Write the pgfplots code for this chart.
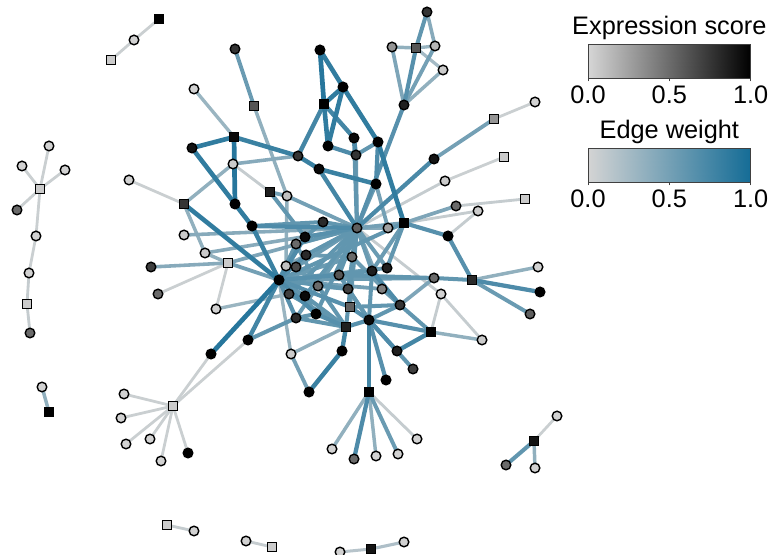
\documentclass[border=0pt]{standalone}
\usepackage{fontspec}
\setmainfont{Liberation Sans}
\usepackage{pgfplots}
\pgfplotsset{compat=1.18}
\definecolor{ecol}{RGB}{20,108,150}
\definecolor{egray}{RGB}{212,212,212}
\pgfplotsset{
  e/.style={draw=ecol!#1!egray, line width={2.0pt+0.017pt*#1}},
  colormap={expr}{rgb255=(214,214,214) rgb255=(0,0,0)},
  colormap={ew}{rgb255=(212,212,212) rgb255=(20,108,150)},
  cbar/.style={anchor=south west, width=122pt, height=25.5pt, scale only axis,
    xmin=0, xmax=1, ymin=0, ymax=1, enlargelimits=false, axis on top,
    axis line style={draw=black!75, line width=0.6pt},
    ytick=\empty, xtick={0,0.5,1}, xticklabels={0.0,0.5,1.0},
    xtick pos=bottom, tick align=outside, major tick length=2.5pt,
    tick style={draw=black!75, line width=0.6pt},
    xticklabel style={font=\fontsize{19}{22}\selectfont, inner sep=0pt, yshift=-3pt},
    title style={font=\fontsize{19}{22}\selectfont, anchor=base, at={(0.5,1)}, yshift=1.2pt, inner sep=0pt}},
}
\begin{document}
\begin{tikzpicture}
\useasboundingbox (0,0) rectangle (578.25pt,416.25pt);
\begin{axis}[at={(0,0)}, anchor=south west, width=578.25pt, height=416.25pt, scale only axis,
  xmin=0, xmax=771, ymin=0, ymax=555, y dir=reverse, hide axis, clip=true, clip marker paths=true]
% weight 5
\addplot[e=5] coordinates {(159,19)(134,40)};
\addplot[e=5] coordinates {(134,40)(111,60)};
\addplot[e=5] coordinates {(40,189)(49,146)};
\addplot[e=5] coordinates {(40,189)(22,166)};
\addplot[e=5] coordinates {(40,189)(65,170)};
\addplot[e=5] coordinates {(40,189)(17,210)};
\addplot[e=5] coordinates {(40,189)(36,236)};
\addplot[e=5] coordinates {(36,236)(29,273)};
\addplot[e=5] coordinates {(173,406)(124,394)};
\addplot[e=5] coordinates {(173,406)(121,418)};
\addplot[e=5] coordinates {(173,406)(126,444)};
\addplot[e=5] coordinates {(173,406)(150,439)};
\addplot[e=5] coordinates {(173,406)(161,461)};
\addplot[e=5] coordinates {(173,406)(188,453)};
\addplot[e=5] coordinates {(173,406)(211,354)};
\addplot[e=5] coordinates {(173,406)(248,340)};
\addplot[e=5] coordinates {(534,441)(557,416)};
\addplot[e=5] coordinates {(494,119)(535,102)};
\addplot[e=5] coordinates {(504,157)(445,181)};
\addplot[e=5] coordinates {(129,180)(184,204)};
\addplot[e=5] coordinates {(228,263)(158,294)};
\addplot[e=5] coordinates {(228,263)(216,309)};
% weight 8
\addplot[e=8] coordinates {(29,273)(27,304)};
\addplot[e=8] coordinates {(27,304)(30,333)};
\addplot[e=8] coordinates {(167,525)(194,531)};
\addplot[e=8] coordinates {(246,541)(272,547)};
\addplot[e=8] coordinates {(369,392)(417,439)};
\addplot[e=8] coordinates {(445,181)(357,228)};
\addplot[e=8] coordinates {(525,199)(456,206)};
\addplot[e=8] coordinates {(478,211)(404,223)};
\addplot[e=8] coordinates {(448,236)(478,211)};
\addplot[e=8] coordinates {(441,294)(357,228)};
\addplot[e=8] coordinates {(441,294)(431,332)};
\addplot[e=8] coordinates {(441,294)(482,340)};
\addplot[e=8] coordinates {(233,164)(270,192)};
% weight 15-25
\addplot[e=15] coordinates {(340,552)(371,549)};
\addplot[e=20] coordinates {(371,549)(404,542)};
\addplot[e=25] coordinates {(416,48)(443,70)};
% weight 30-35
\addplot[e=30] coordinates {(194,89)(234,137)};
\addplot[e=30] coordinates {(416,48)(435,46)};
\addplot[e=30] coordinates {(216,309)(289,294)};
\addplot[e=30] coordinates {(291,354)(279,280)};
\addplot[e=35] coordinates {(42,387)(49,412)};
\addplot[e=35] coordinates {(534,441)(535,468)};
\addplot[e=35] coordinates {(369,392)(332,449)};
\addplot[e=35] coordinates {(369,392)(376,456)};
\addplot[e=35] coordinates {(392,47)(416,48)};
\addplot[e=35] coordinates {(443,70)(404,105)};
\addplot[e=35] coordinates {(254,106)(287,196)};
\addplot[e=35] coordinates {(233,164)(184,204)};
\addplot[e=35] coordinates {(184,204)(205,253)};
\addplot[e=35] coordinates {(205,253)(228,263)};
\addplot[e=35] coordinates {(287,196)(286,266)};
\addplot[e=35] coordinates {(431,332)(482,340)};
\addplot[e=35] coordinates {(472,280)(538,267)};
\addplot[e=35] coordinates {(291,354)(346,327)};
% weight 40-45
\addplot[e=40] coordinates {(427,12)(435,46)};
\addplot[e=40] coordinates {(233,164)(298,156)};
\addplot[e=40] coordinates {(184,235)(357,228)};
\addplot[e=40] coordinates {(205,253)(357,228)};
\addplot[e=40] coordinates {(228,263)(151,267)};
\addplot[e=40] coordinates {(388,228)(357,228)};
\addplot[e=40] coordinates {(404,223)(388,228)};
\addplot[e=45] coordinates {(392,47)(404,105)};
\addplot[e=45] coordinates {(456,206)(404,223)};
\addplot[e=45] coordinates {(228,263)(357,228)};
\addplot[e=45] coordinates {(434,278)(400,305)};
\addplot[e=45] coordinates {(286,266)(357,228)};
\addplot[e=45] coordinates {(382,289)(357,228)};
% weight 50
\addplot[e=50] coordinates {(435,46)(404,105)};
\addplot[e=50] coordinates {(494,119)(434,159)};
\addplot[e=50] coordinates {(228,263)(279,280)};
\addplot[e=50] coordinates {(270,192)(287,196)};
\addplot[e=50] coordinates {(287,196)(357,228)};
\addplot[e=50] coordinates {(376,184)(388,228)};
\addplot[e=50] coordinates {(404,223)(357,228)};
\addplot[e=50] coordinates {(318,286)(357,228)};
\addplot[e=50] coordinates {(291,354)(309,392)};
\addplot[e=50] coordinates {(279,280)(382,289)};
% weight 55
\addplot[e=55] coordinates {(369,392)(398,454)};
\addplot[e=55] coordinates {(235,49)(254,106)};
\addplot[e=55] coordinates {(472,280)(530,314)};
\addplot[e=55] coordinates {(434,278)(279,280)};
\addplot[e=55] coordinates {(356,155)(357,228)};
\addplot[e=55] coordinates {(376,184)(357,228)};
\addplot[e=55] coordinates {(296,267)(357,228)};
\addplot[e=55] coordinates {(352,257)(357,228)};
\addplot[e=55] coordinates {(372,271)(357,228)};
\addplot[e=55] coordinates {(387,268)(357,228)};
\addplot[e=55] coordinates {(350,307)(357,228)};
\addplot[e=55] coordinates {(296,318)(357,228)};
\addplot[e=55] coordinates {(279,280)(387,268)};
\addplot[e=55] coordinates {(279,280)(352,257)};
\addplot[e=55] coordinates {(400,305)(382,289)};
\addplot[e=55] coordinates {(400,305)(352,257)};
\addplot[e=55] coordinates {(296,244)(318,286)};
\addplot[e=55] coordinates {(296,267)(318,286)};
\addplot[e=55] coordinates {(306,255)(352,257)};
\addplot[e=55] coordinates {(318,286)(348,289)};
\addplot[e=55] coordinates {(289,294)(305,296)};
\addplot[e=55] coordinates {(404,223)(372,271)};
% weight 60
\addplot[e=60] coordinates {(506,465)(534,441)};
\addplot[e=60] coordinates {(427,12)(416,48)};
\addplot[e=60] coordinates {(356,155)(378,142)};
\addplot[e=60] coordinates {(354,138)(357,228)};
\addplot[e=60] coordinates {(252,226)(323,222)};
\addplot[e=60] coordinates {(323,222)(357,228)};
\addplot[e=60] coordinates {(296,244)(357,228)};
\addplot[e=60] coordinates {(306,255)(357,228)};
\addplot[e=60] coordinates {(339,275)(357,228)};
\addplot[e=60] coordinates {(348,289)(357,228)};
\addplot[e=60] coordinates {(289,294)(357,228)};
\addplot[e=60] coordinates {(305,296)(357,228)};
\addplot[e=60] coordinates {(316,314)(357,228)};
\addplot[e=60] coordinates {(346,327)(357,228)};
\addplot[e=60] coordinates {(434,278)(339,275)};
\addplot[e=60] coordinates {(472,280)(434,278)};
\addplot[e=60] coordinates {(431,332)(400,305)};
\addplot[e=60] coordinates {(413,369)(369,320)};
\addplot[e=60] coordinates {(279,280)(296,244)};
\addplot[e=60] coordinates {(279,280)(372,271)};
\addplot[e=60] coordinates {(279,280)(348,289)};
\addplot[e=60] coordinates {(279,280)(305,296)};
\addplot[e=60] coordinates {(279,280)(404,223)};
\addplot[e=60] coordinates {(248,340)(296,318)};
\addplot[e=60] coordinates {(400,305)(350,307)};
\addplot[e=60] coordinates {(400,305)(369,320)};
\addplot[e=60] coordinates {(369,320)(348,289)};
\addplot[e=60] coordinates {(369,320)(372,271)};
\addplot[e=60] coordinates {(369,320)(339,275)};
\addplot[e=60] coordinates {(346,327)(318,286)};
\addplot[e=60] coordinates {(346,327)(305,296)};
\addplot[e=60] coordinates {(346,327)(296,318)};
\addplot[e=60] coordinates {(346,327)(289,294)};
\addplot[e=60] coordinates {(323,222)(305,237)};
\addplot[e=60] coordinates {(305,296)(316,314)};
\addplot[e=60] coordinates {(296,318)(316,314)};
\addplot[e=60] coordinates {(270,192)(305,237)};
\addplot[e=60] coordinates {(404,223)(387,268)};
% weight 65
\addplot[e=65] coordinates {(416,48)(404,105)};
\addplot[e=65] coordinates {(404,105)(357,228)};
\addplot[e=65] coordinates {(448,236)(404,223)};
\addplot[e=65] coordinates {(448,236)(472,280)};
\addplot[e=65] coordinates {(431,332)(369,320)};
\addplot[e=65] coordinates {(386,380)(369,320)};
\addplot[e=65] coordinates {(305,237)(357,228)};
\addplot[e=65] coordinates {(279,280)(306,255)};
\addplot[e=65] coordinates {(279,280)(339,275)};
\addplot[e=65] coordinates {(279,280)(350,307)};
\addplot[e=65] coordinates {(279,280)(296,318)};
\addplot[e=65] coordinates {(369,320)(350,307)};
\addplot[e=65] coordinates {(369,320)(346,327)};
\addplot[e=65] coordinates {(346,327)(316,314)};
% weight 70
\addplot[e=70] coordinates {(369,392)(354,459)};
\addplot[e=70] coordinates {(472,280)(540,292)};
\addplot[e=72] coordinates {(434,159)(357,228)};
\addplot[e=70] coordinates {(354,138)(356,155)};
\addplot[e=70] coordinates {(328,146)(356,155)};
\addplot[e=70] coordinates {(378,142)(376,184)};
\addplot[e=70] coordinates {(252,226)(357,228)};
\addplot[e=70] coordinates {(279,280)(305,237)};
\addplot[e=70] coordinates {(279,280)(316,314)};
\addplot[e=70] coordinates {(397,351)(369,320)};
\addplot[e=70] coordinates {(400,305)(372,271)};
% weight 75
\addplot[e=75] coordinates {(369,392)(369,320)};
\addplot[e=75] coordinates {(324,104)(354,138)};
\addplot[e=75] coordinates {(324,104)(298,156)};
\addplot[e=75] coordinates {(319,169)(357,228)};
\addplot[e=75] coordinates {(279,280)(248,340)};
\addplot[e=75] coordinates {(431,332)(397,351)};
\addplot[e=75] coordinates {(342,351)(346,327)};
% weight 80
\addplot[e=80] coordinates {(234,137)(298,156)};
\addplot[e=80] coordinates {(298,156)(319,169)};
\addplot[e=80] coordinates {(319,169)(376,184)};
\addplot[e=80] coordinates {(252,226)(279,280)};
\addplot[e=80] coordinates {(309,392)(342,351)};
% weight 85
\addplot[e=85] coordinates {(234,137)(192,148)};
\addplot[e=85] coordinates {(192,148)(235,204)};
\addplot[e=85] coordinates {(320,50)(343,87)};
\addplot[e=85] coordinates {(343,87)(324,104)};
\addplot[e=85] coordinates {(343,87)(328,146)};
\addplot[e=85] coordinates {(343,87)(378,142)};
\addplot[e=85] coordinates {(324,104)(328,146)};
\addplot[e=85] coordinates {(378,142)(404,223)};
\addplot[e=85] coordinates {(235,204)(252,226)};
\addplot[e=85] coordinates {(184,204)(279,280)};
% weight 90
\addplot[e=90] coordinates {(234,137)(235,204)};
\addplot[e=90] coordinates {(320,50)(324,104)};
\addplot[e=90] coordinates {(279,280)(211,354)};
% nodes: circles
\addplot[scatter, only marks, mark=*, mark size=3.6pt, scatter src=explicit, colormap name=expr,
  point meta min=0, point meta max=1, scatter/use mapped color={draw=black, fill=mapped color},
  mark options={line width=1.05pt}] table[meta=s] {
x y s
134 40 0.02
49 146 0.02
22 166 0.02
65 170 0.02
17 210 0.5
36 236 0.02
29 273 0.02
30 333 0.5
42 387 0.02
124 394 0.02
121 418 0.02
126 444 0.02
150 439 0.02
161 461 0.02
188 453 1.0
194 531 0.02
246 541 0.02
340 552 0.02
404 542 0.02
506 465 0.5
557 416 0.02
535 468 0.02
332 449 0.02
354 459 0.5
376 456 0.02
398 454 0.02
417 439 0.02
427 12 0.75
392 47 0.3
435 46 0.15
443 70 0.05
404 105 0.85
535 102 0.02
434 159 0.9
445 181 0.05
456 206 0.5
235 49 0.75
194 89 0.02
192 148 0.9
320 50 1.0
343 87 1.0
354 138 0.95
328 146 1.0
378 142 1.0
129 180 0.02
233 164 0.05
235 204 1.0
184 235 0.05
205 253 0.05
151 267 0.7
158 294 0.5
216 309 0.02
287 196 0.1
298 156 0.75
319 169 0.95
252 226 1.0
323 222 0.8
305 237 0.95
296 244 0.5
306 255 0.8
286 266 0.1
296 267 0.65
357 228 0.55
388 228 0.25
352 257 0.5
279 280 1.0
339 275 0.6
372 271 0.85
387 268 0.85
318 286 0.5
348 289 0.7
382 289 0.4
289 294 0.7
305 296 0.95
400 305 0.75
296 318 0.8
316 314 1.0
369 320 0.95
434 278 0.5
538 267 0.02
540 292 1.0
530 314 0.55
441 294 0.02
482 340 0.05
397 351 0.85
413 369 0.7
386 380 1.0
342 351 1.0
448 236 1.0
478 211 0.05
248 340 1.0
211 354 1.0
291 354 0.05
309 392 1.0
356 155 0.75
376 184 1.0
};
% nodes: squares
\addplot[scatter, only marks, mark=square*, mark size=3.45pt, scatter src=explicit, colormap name=expr,
  point meta min=0, point meta max=1, scatter/use mapped color={draw=black, fill=mapped color},
  mark options={line width=1.05pt}] table[meta=s] {
x y s
159 19 1.0
111 60 0.05
40 189 0.05
27 304 0.05
49 412 1.0
173 406 0.05
167 525 0.05
272 547 0.05
371 549 0.9
534 441 0.9
369 392 1.0
416 48 0.6
494 119 0.3
504 157 0.05
525 199 0.05
254 106 0.6
234 137 0.95
324 104 1.0
184 204 0.75
228 263 0.05
270 192 0.85
404 223 1.0
350 307 0.55
346 327 0.85
431 332 1.0
472 280 0.8
};
\end{axis}
% colour bars
\begin{axis}[cbar, at={(441pt,357.75pt)}, colormap name=expr, title={Expression score}]
\addplot[surf, shader=interp, mesh/rows=2, mesh/cols=2, point meta=x] coordinates {(0,0) (1,0) (0,1) (1,1)};
\end{axis}
\begin{axis}[cbar, at={(441pt,279.75pt)}, colormap name=ew, title={Edge weight}]
\addplot[surf, shader=interp, mesh/rows=2, mesh/cols=2, point meta=x] coordinates {(0,0) (1,0) (0,1) (1,1)};
\end{axis}
\end{tikzpicture}
\end{document}
